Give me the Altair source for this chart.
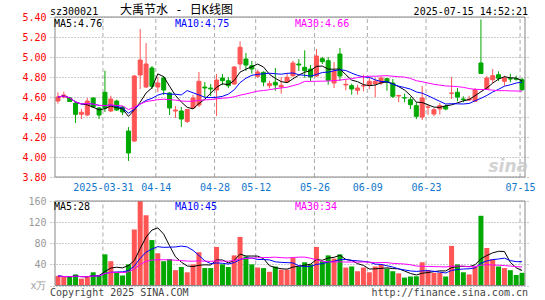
import altair as alt
import pandas as pd

dates = ["2025-03-19","2025-03-20","2025-03-21","2025-03-24","2025-03-25","2025-03-26","2025-03-27","2025-03-28",
         "2025-03-31","2025-04-01","2025-04-02","2025-04-03","2025-04-07","2025-04-08","2025-04-09","2025-04-10",
         "2025-04-11","2025-04-14","2025-04-15","2025-04-16","2025-04-17","2025-04-18","2025-04-21","2025-04-22",
         "2025-04-23","2025-04-24","2025-04-25","2025-04-28","2025-04-29","2025-04-30","2025-05-06","2025-05-07",
         "2025-05-08","2025-05-09","2025-05-12","2025-05-13","2025-05-14","2025-05-15","2025-05-16","2025-05-19",
         "2025-05-20","2025-05-21","2025-05-22","2025-05-23","2025-05-26","2025-05-27","2025-05-28","2025-05-29",
         "2025-05-30","2025-06-03","2025-06-04","2025-06-05","2025-06-06","2025-06-09","2025-06-10","2025-06-11",
         "2025-06-12","2025-06-13","2025-06-16","2025-06-17","2025-06-18","2025-06-19","2025-06-20","2025-06-23",
         "2025-06-24","2025-06-25","2025-06-26","2025-06-27","2025-06-30","2025-07-01","2025-07-02","2025-07-03",
         "2025-07-04","2025-07-07","2025-07-08","2025-07-09","2025-07-10","2025-07-11","2025-07-14","2025-07-15"]

opens = [4.56, 4.60, 4.59, 4.54, 4.427, 4.42, 4.59, 4.49, 4.647, 4.46,
         4.56, 4.50, 4.26, 4.16, 4.82, 4.70, 4.89, 4.70, 4.79, 4.64,
         4.46, 4.46, 4.355, 4.49, 4.52, 4.70, 4.69, 4.67, 4.79, 4.763,
         4.73, 4.93, 4.98, 4.913, 4.807, 4.847, 4.713, 4.747, 4.70, 4.75,
         4.813, 4.93, 4.897, 4.88, 4.81, 4.983, 4.963, 4.74, 5.03, 4.72,
         4.713, 4.667, 4.71, 4.723, 4.733, 4.74, 4.783, 4.74, 4.61, 4.593,
         4.573, 4.513, 4.40, 4.497, 4.43, 4.48, 4.507, 4.637, 4.647, 4.58,
         4.57, 4.557, 4.94, 4.68, 4.773, 4.823, 4.757, 4.783, 4.783, 4.773]
highs = [4.647, 4.653, 4.60, 4.545, 4.48, 4.59, 4.60, 4.50, 4.863, 4.613,
         4.573, 4.51, 4.30, 4.82, 5.28, 5.14, 4.91, 4.80, 4.81, 4.65,
         4.51, 4.50, 4.48, 4.62, 4.85, 4.75, 4.73, 4.83, 4.83, 4.80,
         4.91, 5.157, 5.04, 4.96, 4.873, 4.857, 4.763, 4.89, 4.80, 4.84,
         4.963, 4.98, 5.067, 4.92, 5.08, 5.00, 5.00, 4.95, 5.09, 4.773,
         4.733, 4.723, 4.823, 4.80, 4.79, 4.807, 4.79, 4.78, 4.623, 4.633,
         4.60, 4.547, 4.71, 4.523, 4.49, 4.54, 4.523, 4.80, 4.69, 4.607,
         4.613, 4.69, 5.375, 4.81, 4.88, 4.857, 4.813, 4.833, 4.813, 4.79]
lows = [4.533, 4.587, 4.55, 4.34, 4.38, 4.41, 4.49, 4.38, 4.45, 4.45,
        4.46, 4.42, 3.96, 4.15, 4.68, 4.69, 4.68, 4.65, 4.62, 4.42,
        4.39, 4.30, 4.34, 4.48, 4.50, 4.60, 4.61, 4.41, 4.72, 4.69,
        4.72, 4.873, 4.86, 4.833, 4.79, 4.707, 4.683, 4.663, 4.633, 4.74,
        4.80, 4.86, 4.793, 4.76, 4.80, 4.93, 4.723, 4.69, 4.76, 4.667,
        4.623, 4.623, 4.657, 4.68, 4.60, 4.72, 4.663, 4.59, 4.547, 4.547,
        4.48, 4.38, 4.37, 4.423, 4.407, 4.423, 4.467, 4.58, 4.557, 4.547,
        4.56, 4.55, 4.83, 4.67, 4.74, 4.76, 4.713, 4.747, 4.763, 4.66]
closes = [4.60, 4.62, 4.555, 4.427, 4.447, 4.56, 4.50, 4.42, 4.49, 4.58,
          4.47, 4.45, 4.04, 4.81, 4.97, 4.93, 4.707, 4.74, 4.67, 4.49,
          4.47, 4.38, 4.475, 4.59, 4.757, 4.69, 4.68, 4.77, 4.763, 4.713,
          4.90, 5.097, 4.92, 4.88, 4.85, 4.75, 4.733, 4.72, 4.717, 4.797,
          4.94, 4.92, 4.863, 4.80, 5.01, 4.953, 4.767, 4.86, 4.81, 4.727,
          4.68, 4.69, 4.713, 4.757, 4.757, 4.79, 4.747, 4.607, 4.615, 4.59,
          4.523, 4.407, 4.59, 4.50, 4.473, 4.513, 4.48, 4.64, 4.60, 4.573,
          4.58, 4.673, 4.835, 4.79, 4.813, 4.787, 4.79, 4.78, 4.777, 4.673]
volumes = [18, 16, 16, 21, 13, 17, 25, 18, 59, 46,
           25, 19, 40, 106, 160, 133, 86, 61, 46, 50,
           29, 35, 25, 40, 63, 33, 33, 73, 40, 35,
           57, 92, 55, 40, 34, 33, 26, 36, 30, 30,
           52, 36, 44, 40, 73, 46, 57, 51, 59, 34,
           36, 27, 34, 25, 36, 40, 32, 27, 23, 15,
           17, 17.5, 44, 29, 24, 24, 17, 75, 40, 25,
           21, 35, 132, 71, 50, 36, 33, 29, 20, 24]

tick_idx = [8, 17, 27, 34, 44, 53, 63, 79]
tick_labels = ["2025-03-31", "04-14", "04-28", "05-12", "05-26", "06-09", "06-23", "07-15"]
price_ticks = [3.8, 4.0, 4.2, 4.4, 4.6, 4.8, 5.0, 5.2, 5.4]
vol_ticks = [0, 40, 80, 120, 160]

MONO = "DejaVu Sans Mono"
RED = "#ff5555"
GREEN = "#00a800"

df = pd.DataFrame({"i": list(range(len(dates))), "date": dates, "open": opens, "high": highs,
                   "low": lows, "close": closes, "vol": volumes})
df["dir"] = ["up" if c >= o else "down" for o, c in zip(opens, closes)]
ticks = pd.DataFrame({"i": tick_idx, "lab": tick_labels})

col_scale = alt.Scale(domain=["up", "down"], range=[RED, GREEN])
xscale = alt.Scale(domain=[-0.5, len(dates) - 0.5], nice=False, zero=False)
label_expr = ("[" + ",".join("'%s'" % l for l in tick_labels) + "][indexof(["
              + ",".join(str(v) for v in tick_idx) + "], datum.value)]")
xaxis = alt.Axis(values=tick_idx, labelExpr=label_expr, orient="bottom", offset=-109, domain=False,
                 ticks=False, grid=False, labelPadding=5, labelColor="#1177cc", labelFont=MONO,
                 labelFontSize=10, tickOffset=-2, title=None, labelFlush=False, labelOverlap=False)
X = alt.X("i:Q", scale=xscale, axis=xaxis)

Yp = alt.Scale(domain=[3.8, 5.4], range=[160, 0], nice=False, zero=False)
Yv = alt.Scale(domain=[0, 160], range=[268.5, 184], nice=False, zero=False)

price_axis = alt.Axis(values=price_ticks, format=".2f", orient="left", grid=True, gridDash=[1, 2],
                      gridColor="#999999", domain=False, ticks=False, labelColor="#ff0000",
                      labelFont=MONO, labelFontSize=10, labelPadding=4, title=None)
vol_axis = alt.Axis(values=vol_ticks, orient="left", grid=True, gridDash=[1, 2], gridColor="#999999",
                    domain=False, ticks=False, labelColor="#999999", labelFont=MONO, labelFontSize=10,
                    labelPadding=4, title=None,
                    labelExpr="datum.value == 0 ? 'x万' : datum.label")

color = alt.Color("dir:N", scale=col_scale, legend=None)
base = alt.Chart(df)

# vertical dashed grid (price + volume)
vgrid_p = alt.Chart(ticks).mark_rule(color="#aaaaaa", strokeDash=[4, 3], xOffset=-2).encode(
    x=X, y=alt.YDatum(3.8, scale=Yp, axis=None), y2=alt.Y2Datum(5.4))
vgrid_v = alt.Chart(ticks).mark_rule(color="#aaaaaa", strokeDash=[4, 3], xOffset=-2).encode(
    x=X, y=alt.YDatum(0, scale=Yv, axis=None), y2=alt.Y2Datum(160))

wicks = base.mark_rule(strokeWidth=1).encode(
    x=X, y=alt.Y("low:Q", scale=Yp, axis=price_axis), y2="high:Q", color=color)
bodies = base.mark_bar(size=4, strokeWidth=1).encode(
    x=X, y=alt.Y("open:Q", scale=Yp, axis=None), y2="close:Q", color=color,
    stroke=alt.Stroke("dir:N", scale=col_scale, legend=None))

def ma_line(field, n, col, scale):
    return base.transform_window(
        ma=f"mean({field})", frame=[-(n - 1), 0], sort=[alt.SortField("i")]
    ).mark_line(color=col, strokeWidth=1).encode(
        x=X, y=alt.Y("ma:Q", scale=scale, axis=None))

vbars = base.mark_bar(size=5).encode(
    x=X, y=alt.Y("vol:Q", scale=Yv, axis=vol_axis), color=color)

border_df = pd.DataFrame({"i": [-0.5], "i2": [len(dates) - 0.5], "plo": [3.8], "phi": [5.4],
                          "vlo": [0], "vhi": [160]})
border_p = alt.Chart(border_df).mark_rect(fillOpacity=0, stroke="#888888", strokeWidth=1).encode(
    x=X, x2="i2:Q", y=alt.Y("plo:Q", scale=Yp, axis=None), y2="phi:Q")
border_v = alt.Chart(border_df).mark_rect(fillOpacity=0, stroke="#888888", strokeWidth=1).encode(
    x=X, x2="i2:Q", y=alt.Y("vlo:Q", scale=Yv, axis=None), y2="vhi:Q")

def txt(s, x, y, col="#000000", align="left", font=MONO, size=10, **kw):
    return alt.Chart(pd.DataFrame({"t": [s]})).mark_text(
        align=align, baseline="alphabetic", font=font, fontSize=size, color=col, **kw
    ).encode(text="t:N", x=alt.value(x), y=alt.value(y))

texts = [
    txt("sz300021", 0, -2),
    txt("大禹节水 - 日K线图", 70, -3, font="DejaVu Sans Mono, Noto Sans CJK SC", size=12),
    txt("2025-07-15 14:52:21", 478, -2, align="right"),
    txt("MA5:4.76", 4, 10),
    txt("MA10:4.75", 125, 10, col="#0000ff"),
    txt("MA30:4.66", 245, 10, col="#ff00ff"),
    txt("MA5:28", 4, 193),
    txt("MA10:45", 125, 193, col="#0000ff"),
    txt("MA30:34", 245, 193, col="#ff00ff"),
    txt("Copyright 2025 SINA.COM", 0, 279, col="#444444"),
    txt("http://finance.sina.com.cn", 478, 279, col="#444444", align="right"),
    txt("sina", 478, 155, col="#c8c8c8", align="right", font="DejaVu Sans", size=17,
        fontStyle="italic", fontWeight="bold", opacity=0.8),
]

layers = [vgrid_p, vgrid_v, wicks, bodies,
          ma_line("close", 5, "#000000", Yp), ma_line("close", 10, "#0000ff", Yp),
          ma_line("close", 30, "#ff00ff", Yp),
          vbars,
          ma_line("vol", 5, "#000000", Yv), ma_line("vol", 10, "#0000ff", Yv),
          ma_line("vol", 30, "#ff00ff", Yv),
          border_p, border_v] + texts

chart = alt.layer(*layers).resolve_scale(y="independent").properties(
    width=480, height=269,
    padding={"left": 50, "top": 17, "right": 15, "bottom": 14},
    autosize=alt.AutoSizeParams(type="none"),
    background="#ffffff",
).configure_view(stroke=None)

chart.save("out.html", embed_options={"renderer": "svg", "actions": False})
